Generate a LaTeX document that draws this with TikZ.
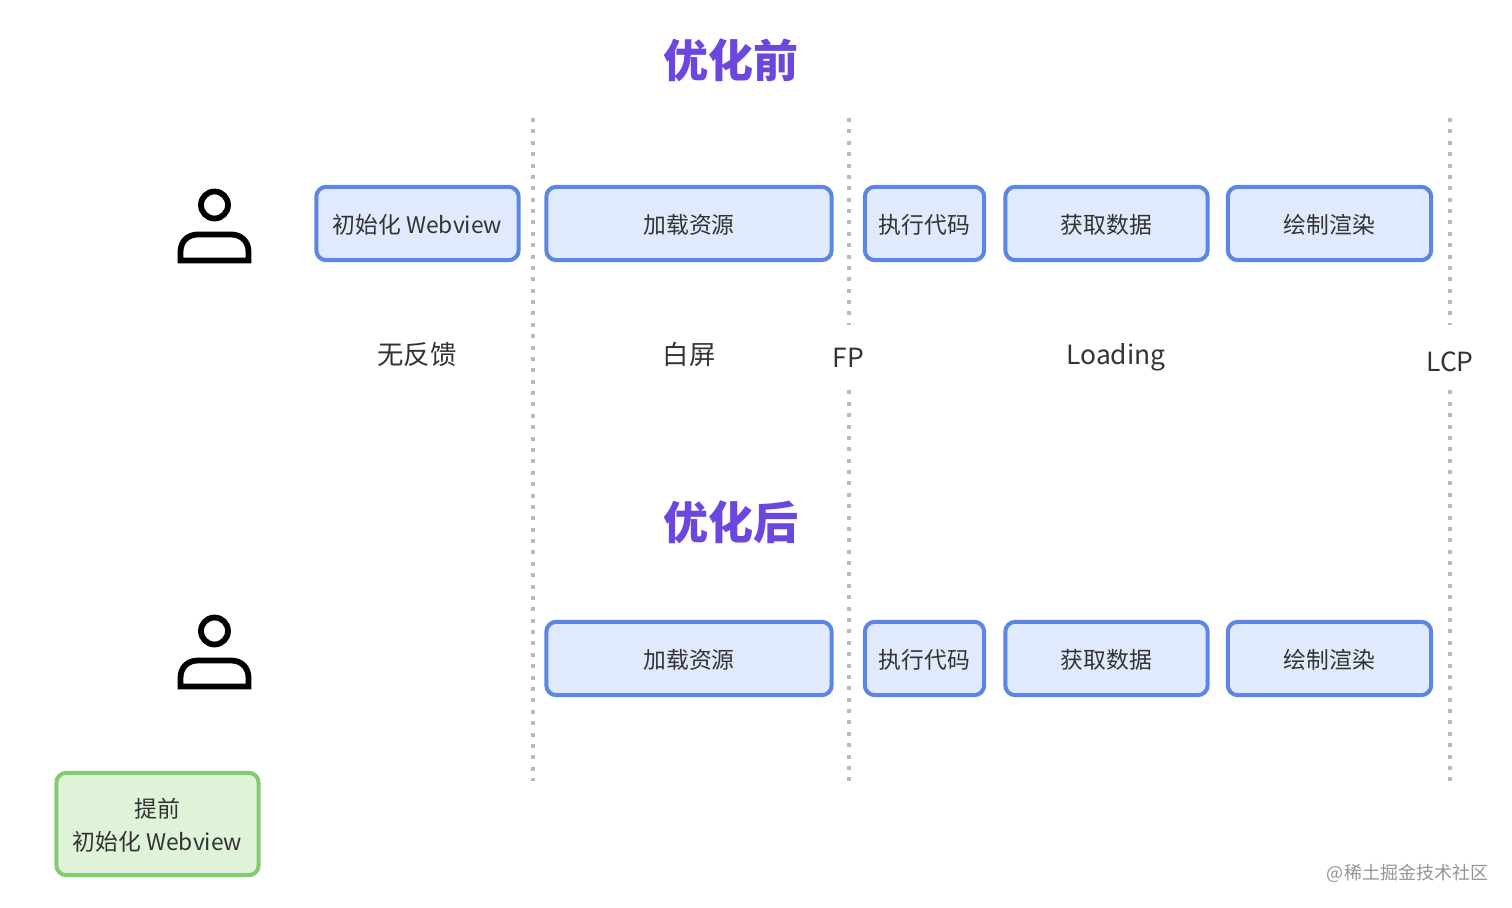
\documentclass[tikz,border=0pt]{standalone}
\usepackage{fontspec}
\setmainfont{Noto Sans CJK SC}
\definecolor{boxblue}{HTML}{5B86E6}
\definecolor{fillblue}{HTML}{E1EAFC}
\definecolor{boxgreen}{HTML}{82CC70}
\definecolor{fillgreen}{HTML}{DFF3D9}
\definecolor{titlepurple}{HTML}{6B46DF}
\definecolor{inktext}{HTML}{333333}
\newcommand{\lowered}[2]{\raisebox{-#1}[\height][\depth]{#2}}
\tikzset{
  stagebox/.style={draw=boxblue,fill=fillblue,line width=2pt,rounded corners=5pt,
    minimum height=36.7pt,inner sep=0pt,text=inktext,font=\fontsize{11.4}{14}\selectfont},
  earlybox/.style={stagebox,draw=boxgreen,fill=fillgreen,minimum width=101.2pt,minimum height=51.2pt,
    align=center,font=\fontsize{11.4}{16.5}\selectfont},
  marktext/.style={text=inktext,inner sep=0pt,font=\fontsize{13.2}{16}\selectfont},
  gaplabel/.style={marktext,minimum height=32.5pt},
  heading/.style={text=titlepurple,inner sep=0pt,font=\fontsize{22.5}{27}\selectfont\bfseries},
  timeline/.style={draw=black!27,line width=2pt,dash pattern=on 2pt off 3.69pt},
  usericon/.style={draw=black,line width=2.9pt}
}
\begin{document}
\begin{tikzpicture}[x=0.5pt,y=-0.5pt]
  \useasboundingbox (0,0) rectangle (1512,908);

  % headings
  \node[heading] (titleA) at (731,60.5) {优化前};
  \node[heading] (titleB) at (731,522) {优化后};

  % user icons
  \foreach \dy in {0,426} {
    \draw[usericon] (214.5,205+\dy) circle (13.5);
    \draw[usericon] (180.5,260.5+\dy) -- (180.5,252+\dy)
      .. controls (180.5,241+\dy) and (188,234.5+\dy) .. (198,234.5+\dy)
      -- (231,234.5+\dy)
      .. controls (241,234.5+\dy) and (248.5,241+\dy) .. (248.5,252+\dy)
      -- (248.5,260.5+\dy) -- cycle;
  }

  % before
  \node[stagebox,minimum width=101.2pt] (initA) at (417.5,223.5) {\lowered{0.7pt}{初始化 Webview}};
  \node[stagebox,minimum width=142.7pt] (loadA) at (689,223.5) {\lowered{0.7pt}{加载资源}};
  \node[stagebox,minimum width=59.7pt] (execA) at (924.5,223.5) {\lowered{0.7pt}{执行代码}};
  \node[stagebox,minimum width=101.2pt] (fetchA) at (1106.5,223.5) {\lowered{0.7pt}{获取数据}};
  \node[stagebox,minimum width=101.7pt] (drawA) at (1329.5,223.5) {\lowered{0.7pt}{绘制渲染}};

  \node[marktext] (nofeedback) at (417,354.5) {无反馈};
  \node[marktext] (blank) at (689,354.5) {白屏};
  \node[marktext] (loading) at (1116,357) {Loading};
  \node[gaplabel] (fp) at (848.5,357.5) {FP};
  \node[gaplabel] (lcp) at (1450,357.5) {\lowered{2pt}{LCP}};

  % after
  \node[stagebox,minimum width=142.7pt] (loadB) at (689,658.5) {\lowered{0.7pt}{加载资源}};
  \node[stagebox,minimum width=59.7pt] (execB) at (924.5,658.5) {\lowered{0.7pt}{执行代码}};
  \node[stagebox,minimum width=101.2pt] (fetchB) at (1106.5,658.5) {\lowered{0.7pt}{获取数据}};
  \node[stagebox,minimum width=101.7pt] (drawB) at (1329.5,658.5) {\lowered{0.7pt}{绘制渲染}};

  \node[earlybox] (initB) at (157.5,824) {\lowered{0.5pt}{提前}\\\lowered{0.5pt}{初始化 Webview}};

  % time lines
  \coordinate (startTop) at (533,118);
  \coordinate (startEnd) at (533,781);
  \coordinate (fpTop) at (848.5,118);
  \coordinate (fpEnd) at (848.5,781);
  \coordinate (lcpTop) at (1450,118);
  \coordinate (lcpEnd) at (1450,781);
  \draw[timeline] (startTop) -- (startEnd);
  \draw[timeline] (fpTop) -- (fp);
  \draw[timeline] (fp) -- (fpEnd);
  \draw[timeline] (lcpTop) -- (lcp);
  \draw[timeline] (lcp) -- (lcpEnd);

  \node[text=black!42,inner sep=0pt,font=\fontsize{9}{11}\selectfont] (mark) at (1407.5,873.5) {@稀土掘金技术社区};
\end{tikzpicture}
\end{document}
